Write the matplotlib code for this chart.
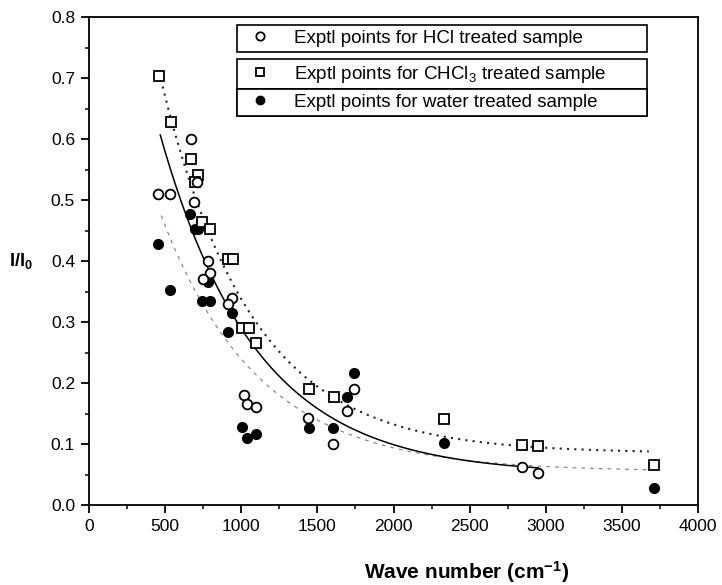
import numpy as np
import matplotlib
matplotlib.use("Agg")
import matplotlib.pyplot as plt
from matplotlib.lines import Line2D
from matplotlib.ticker import MultipleLocator

plt.rcParams['font.family'] = ['Liberation Sans', 'DejaVu Sans']
plt.rcParams['mathtext.default'] = 'regular'

hcl_x = [455, 534, 670, 712, 692, 784, 797, 751, 936, 916, 1015, 1041, 1094,
         1437, 1602, 1694, 1740, 2847, 2946]
hcl_y = [0.51, 0.51, 0.60, 0.53, 0.497, 0.40, 0.38, 0.37, 0.34, 0.33, 0.18,
         0.165, 0.16, 0.143, 0.10, 0.154, 0.19, 0.062, 0.052]

chcl3_x = [461, 540, 672, 718, 698, 745, 797, 916, 949, 1008, 1048, 1094,
           1443, 1608, 2333, 2847, 2946, 3710]
chcl3_y = [0.703, 0.628, 0.567, 0.541, 0.53, 0.464, 0.452, 0.403, 0.403,
           0.29, 0.29, 0.265, 0.19, 0.177, 0.141, 0.098, 0.097, 0.066]

water_x = [455, 534, 666, 698, 718, 745, 797, 784, 942, 916, 1008, 1035,
           1094, 1443, 1601, 1694, 1740, 2333, 3710]
water_y = [0.428, 0.352, 0.477, 0.452, 0.452, 0.334, 0.334, 0.365, 0.315,
           0.284, 0.128, 0.11, 0.116, 0.126, 0.126, 0.177, 0.216, 0.102, 0.028]

# exponential decay fits  y = y0 + A*exp(-x/t), with x range
fit_chcl3 = dict(y0=0.085, A=1.353, t=596, xmin=461, xmax=3677)
fit_hcl = dict(y0=0.05, A=1.17, t=630, xmin=468, xmax=2950)
fit_water = dict(y0=0.055, A=0.88, t=640, xmin=474, xmax=3660)

legend_labels = ['Exptl points for HCl treated sample',
                 'Exptl points for CHCl$_3$ treated sample',
                 'Exptl points for water treated sample']


def fit_curve(p):
    xx = np.linspace(p['xmin'], p['xmax'], 300)
    return xx, p['y0'] + p['A'] * np.exp(-xx / p['t'])


fig = plt.figure(figsize=(7.22, 5.85), dpi=100)
ax = fig.add_axes([89 / 722, 1 - 505 / 585, 609 / 722, 488 / 585])

xx, yy = fit_curve(fit_water)
ax.plot(xx, yy, color='#8a8a8a', lw=0.9, ls=(0, (3, 4)), zorder=2)
xx, yy = fit_curve(fit_hcl)
ax.plot(xx, yy, color='black', lw=1.1, zorder=2)
xx, yy = fit_curve(fit_chcl3)
ax.plot(xx, yy, color='#222222', lw=1.5, ls=(0, (1, 2.5)), zorder=2)

ms = 7
ax.plot(water_x, water_y, 'o', ms=ms, mfc='black', mec='black', zorder=3)
ax.plot(chcl3_x, chcl3_y, 's', ms=ms - 0.5, mfc='white', mec='black', mew=1.3, zorder=4)
ax.plot(hcl_x, hcl_y, 'o', ms=ms, mfc='white', mec='black', mew=1.3, zorder=5)

ax.set_xlim(0, 4000)
ax.set_ylim(0.0, 0.8)
ax.xaxis.set_major_locator(MultipleLocator(500))
ax.xaxis.set_minor_locator(MultipleLocator(250))
ax.yaxis.set_major_locator(MultipleLocator(0.1))
ax.yaxis.set_minor_locator(MultipleLocator(0.05))
ax.yaxis.set_major_formatter(plt.FormatStrFormatter('%.1f'))
ax.tick_params(which='major', direction='out', length=6, width=1.3, labelsize=12.5, pad=4)
ax.tick_params(which='minor', direction='out', length=3, width=1.1)
for s in ax.spines.values():
    s.set_linewidth(1.3)

ax.set_xlabel('Wave number (cm$^{-1}$)', fontsize=15, fontweight='bold', va='center')
ax.xaxis.set_label_coords(0.62, -0.137)
ax.set_ylabel('I/I$_0$', fontsize=13, fontweight='bold', rotation=0,
              va='center', ha='center')
ax.yaxis.set_label_coords(-0.112, 0.5)

# three stacked single-entry legend boxes
handles = [
    Line2D([], [], ls='none', marker='o', ms=6, mfc='white', mec='black', mew=1.3),
    Line2D([], [], ls='none', marker='s', ms=6, mfc='white', mec='black', mew=1.3),
    Line2D([], [], ls='none', marker='o', ms=6, mfc='black', mec='black'),
]
x0 = (237 - 89) / 609
w = (647 - 237) / 609
tops = [25, 59, 89]
for h, lab, top in zip(handles, legend_labels, tops):
    ytop = (505 - top) / 488
    leg = ax.legend([h], [lab], loc='upper left', bbox_to_anchor=(x0, ytop - 0.06, w, 0.06),
                    mode='expand', fontsize=13.5, frameon=True, fancybox=False,
                    edgecolor='black', framealpha=1, borderpad=0.25, borderaxespad=0,
                    handlelength=2.0, handletextpad=0.8)
    leg.get_frame().set_linewidth(1.2)
    leg.set_zorder(6)
    ax.add_artist(leg)

fig.savefig('out.png', dpi=100)
